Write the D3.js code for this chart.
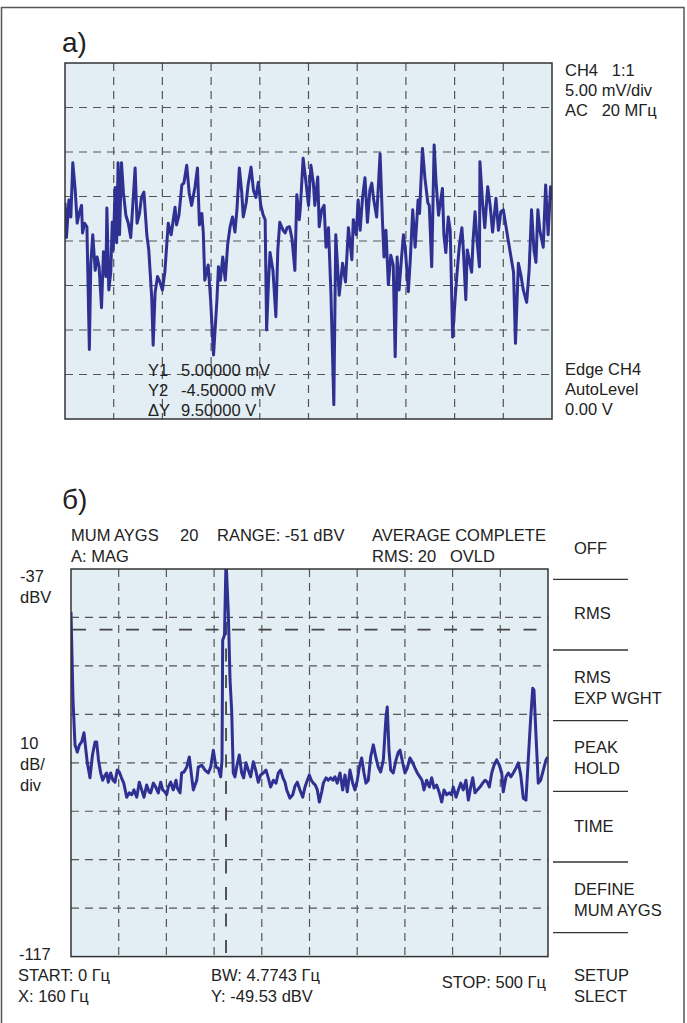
<!DOCTYPE html>
<html>
<head>
<meta charset="utf-8">
<script src="https://cdn.jsdelivr.net/npm/d3@7"></script>
<style>
  body { margin: 0; background: #fff; }
  svg text { font-family: "Liberation Sans", Arial, sans-serif; font-size: 16.5px; fill: #222; }
</style>
</head>
<body>
<div id="chart"></div>
<script>
// ---- panel a: oscilloscope trace (time in divisions, amplitude in mV) ----
const traceT = [
  0,0.03,0.08,0.12,0.16,0.21,0.25,0.29,0.34,0.36,
  0.40,0.45,0.50,0.53,0.57,0.62,0.66,0.70,0.75,0.79,
  0.84,0.86,0.90,0.94,0.97,0.99,1.03,1.06,1.09,1.12,
  1.16,1.20,1.25,1.30,1.35,1.44,1.48,1.53,1.57,1.62,
  1.68,1.72,1.78,1.81,1.85,1.90,1.95,2.00,2.05,2.12,
  2.18,2.26,2.29,2.34,2.40,2.44,2.50,2.55,2.60,2.67,
  2.72,2.76,2.81,2.84,2.87,2.94,2.99,3.05,3.12,3.15,
  3.19,3.24,3.29,3.34,3.39,3.44,3.49,3.53,3.58,3.63,
  3.66,3.72,3.76,3.82,3.87,3.92,3.97,4.02,4.07,4.11,
  4.14,4.18,4.21,4.27,4.33,4.37,4.41,4.48,4.52,4.56,
  4.61,4.66,4.72,4.76,4.81,4.83,4.89,4.95,5.00,5.05,
  5.10,5.13,5.19,5.22,5.27,5.32,5.36,5.41,5.46,5.52,
  5.56,5.63,5.70,5.76,5.82,5.89,5.92,5.98,6.02,6.06,
  6.11,6.16,6.21,6.26,6.30,6.34,6.40,6.47,6.52,6.55,
  6.59,6.64,6.69,6.74,6.78,6.82,6.86,6.91,6.95,6.99,
  7.05,7.09,7.14,7.19,7.25,7.28,7.34,7.39,7.45,7.48,
  7.53,7.58,7.62,7.67,7.70,7.75,7.78,7.82,7.87,7.91,
  7.96,8.01,8.05,8.10,8.15,8.18,8.23,8.26,8.31,8.35,
  8.38,8.42,8.46,8.51,8.52,8.57,8.62,8.68,8.73,8.78,
  8.85,8.90,8.95,9.00,9.10,9.21,9.25,9.31,9.36,9.41,
  9.48,9.53,9.58,9.63,9.67,9.71,9.75,9.82,9.87,9.92,9.97,10.00
];
const traceMv = [
  4.3,0.4,4.6,2.7,8.8,5.7,2.0,3.1,4.0,0.9,
  2.0,1.6,-12.2,-2.5,0.7,-3.3,-1.8,-2.9,-7.5,-1.2,
  -4.0,3.7,-5.5,-3.5,2.1,-1.0,6.0,-0.2,8.8,0.7,
  8.8,5.4,2.9,2.0,0.4,8.2,2.0,3.1,4.9,5.5,
  0.7,-1.0,-6.3,-11.7,-5.8,-4.0,-4.6,-5.5,-3.5,2.0,
  0.7,3.8,1.8,2.9,6.3,6.5,8.5,5.4,4.0,6.1,
  8.2,1.8,3.1,0.9,-4.4,-2.7,-6.6,-12.8,-6.6,-2.9,
  -4.4,-1.8,-4.4,-0.4,1.6,2.7,1.0,3.5,8.2,5.4,
  2.7,4.3,6.3,8.3,5.7,4.9,6.6,4.0,2.9,2.4,
  -10.0,-4.4,-1.3,-3.3,-8.5,-1.0,2.1,1.2,0.9,1.5,
  1.6,0.3,-3.3,5.2,2.4,3.5,9.3,6.5,4.0,8.5,
  6.5,4.0,7.2,1.6,3.5,4.0,-0.7,1.5,-5.8,-18.4,
  0.7,-6.1,-2.5,-4.6,1.5,-2.1,2.4,0.7,4.6,1.2,
  4.9,7.1,2.1,5.7,6.5,4.6,2.7,9.8,2.1,-1.8,
  1.2,-4.9,-1.6,-2.7,-13.0,-1.8,-5.5,-1.9,0.7,-1.0,
  -5.7,-2.1,3.5,-0.7,4.6,3.1,10.4,7.1,4.3,4.0,
  -2.9,10.8,6.6,2.9,4.0,5.9,0.7,-1.3,2.7,1.2,
  -10.8,-6.6,-3.6,-0.4,1.5,-1.0,-6.6,-1.0,-2.4,-3.5,
  0.1,3.3,0.1,-2.9,8.9,4.6,1.5,6.1,4.0,1.0,
  4.8,1.2,3.3,3.5,0.1,-3.5,-11.5,-2.5,-3.8,-5.5,
  -6.9,-3.3,3.5,-1.0,-2.4,3.5,1.2,-0.7,6.3,0.7,6.1,4.6
];

// ---- panel b: spectrum (Hz, dBV) ----
const specHz = [
  0,2.1,4.2,6.6,8.9,11.2,13.6,17.1,19.9,22.5,
  25.2,26.9,28.8,31.1,33.2,35.3,37.4,39.1,41.6,44.0,
  46.1,48.5,50.6,52.9,55.3,58.4,61.1,63.6,66.0,68.9,
  71.6,74.1,76.5,79.3,81.8,83.5,86.3,88.8,91.5,94.0,
  96.1,98.5,100.3,102.0,104.5,107.2,110.1,111.4,114.3,116.0,
  118.4,121.3,124.0,126.5,128.2,131.8,133.4,137.0,140.5,143.9,
  146.4,149.2,152.0,154.4,156.9,158.3,159.0,160.9,162.5,164.9,
  166.7,168.4,170.1,171.9,174.0,176.4,178.9,181.0,183.4,185.8,
  188.3,191.1,193.6,196.3,198.8,201.6,204.4,206.8,209.3,212.1,
  214.9,217.3,219.8,222.2,224.3,226.1,229.5,232.4,234.8,237.2,
  240.0,242.9,245.3,247.7,249.8,251.9,254.0,256.1,258.2,260.3,
  262.8,264.5,267.3,269.7,272.2,274.6,276.7,279.1,282.0,284.8,
  287.2,289.6,292.4,295.3,297.7,300.1,302.2,304.7,307.1,309.2,
  311.6,314.1,316.9,319.7,322.1,324.6,327.4,330.2,331.5,333.3,
  335.1,337.8,340.7,343.1,344.9,347.7,350.1,352.5,355.3,358.2,
  360.6,363.0,365.7,367.9,370.0,372.8,375.6,378.1,380.5,383.3,
  386.1,388.6,391.0,393.8,396.5,398.6,400.7,403.6,406.0,408.5,
  411.2,414.0,416.5,419.0,421.1,423.5,425.9,428.7,431.5,434.0,
  436.4,438.5,441.0,443.4,446.2,449.0,451.5,453.1,456.0,458.4,
  461.2,463.6,466.4,468.9,471.4,474.1,476.9,479.3,481.6,484.0,
  485.3,487.4,489.8,492.3,495.1,497.9,499.7
];
const specDbv = [
  -45.9,-64.0,-73.3,-74.8,-73.3,-72.7,-70.8,-77.0,-80.1,-75.4,
  -72.7,-72.7,-76.4,-79.1,-80.6,-79.7,-79.1,-81.0,-79.1,-80.6,
  -81.0,-78.5,-78.9,-80.1,-81.2,-84.1,-83.2,-83.6,-82.6,-84.1,
  -81.0,-82.6,-84.1,-81.6,-83.0,-83.2,-81.2,-82.0,-83.2,-81.0,
  -82.6,-83.0,-83.6,-82.0,-81.0,-82.6,-80.6,-82.2,-83.2,-79.1,
  -78.9,-77.9,-75.8,-79.9,-82.6,-80.6,-77.9,-77.5,-78.5,-79.1,
  -77.9,-74.4,-77.9,-78.1,-79.9,-76.4,-51.7,-50.6,-35.1,-46.1,
  -59.9,-66.1,-79.1,-79.9,-77.5,-75.4,-79.1,-80.1,-77.0,-78.5,
  -79.9,-76.8,-78.5,-81.0,-79.5,-79.1,-78.5,-80.1,-82.0,-80.6,
  -81.2,-79.1,-78.5,-80.1,-81.0,-82.6,-84.3,-83.6,-81.8,-81.0,
  -82.6,-84.1,-82.0,-80.6,-79.5,-80.6,-81.2,-81.6,-82.6,-85.1,
  -83.0,-81.2,-80.1,-80.6,-80.1,-80.6,-79.9,-81.2,-79.1,-82.6,
  -79.5,-83.0,-78.5,-81.2,-82.6,-80.6,-77.9,-76.0,-79.1,-81.2,
  -80.6,-75.8,-73.3,-76.0,-77.9,-78.9,-76.4,-67.5,-65.5,-74.4,
  -78.5,-79.1,-76.4,-74.8,-74.4,-77.0,-79.1,-78.1,-76.0,-77.0,
  -78.1,-79.1,-79.9,-80.6,-82.6,-80.6,-82.0,-80.1,-82.2,-81.6,
  -83.2,-85.1,-82.6,-83.6,-83.2,-83.6,-82.0,-84.1,-82.6,-81.2,
  -82.6,-80.6,-84.7,-82.0,-80.1,-83.2,-82.6,-82.0,-81.2,-80.6,
  -81.0,-82.0,-79.1,-77.5,-76.4,-77.5,-79.1,-83.0,-79.9,-79.1,
  -79.9,-79.1,-78.1,-77.0,-79.5,-84.3,-84.7,-76.4,-68.6,-61.6,
  -62.0,-71.3,-81.2,-80.6,-78.5,-76.4,-75.8
];
const cursorHz = 162.5;     // marker position as seen on screen
const cursorDbv = -49.53;

// ---- text ----
const scopeInfo = ["CH4   1:1", "5.00 mV/div", "AC   20 МГц"];
const trigInfo = ["Edge CH4", "AutoLevel", "0.00 V"];
const cursorNames = ["Y1", "Y2", "ΔY"];
const cursorVals = ["5.00000 mV", "-4.50000 mV", "9.50000 V"];
const menuItems = [["OFF"], ["RMS"], ["RMS", "EXP WGHT"], ["PEAK", "HOLD"], ["TIME"], ["DEFINE", "MUM AYGS"], ["SETUP", "SLECT"]];

const W = 687, H = 1023;
const svg = d3.select("#chart").append("svg")
    .attr("width", W)
    .attr("height", H);

// outer frame
svg.append("rect")
    .attr("x", 1.5).attr("y", 7.5)
    .attr("width", 682.5).attr("height", 1030)
    .attr("fill", "none")
    .attr("stroke", "#555")
    .attr("stroke-width", 1.5);

function txt(x, y, s, size, anchor) {
    const t = svg.append("text")
        .attr("x", x).attr("y", y)
        .attr("text-anchor", anchor || "start")
        .style("white-space", "pre")
        .text(s);
    if (size) t.style("font-size", size + "px");
    return t;
}

function drawPanel(x, y, xTicks, yTicks, clipId) {
    const g = svg.append("g");
    const [x0, x1] = x.range();
    const [y0, y1] = y.range(); // y0 bottom
    g.append("rect")
        .attr("x", x0).attr("y", y1)
        .attr("width", x1 - x0).attr("height", y0 - y1)
        .attr("fill", "#e2edf4");

    g.selectAll(".vgrid").data(xTicks).enter().append("line")
        .attr("x1", d => x(d)).attr("x2", d => x(d))
        .attr("y1", y1).attr("y2", y0)
        .attr("stroke", "#555").attr("stroke-width", 1.2)
        .attr("stroke-dasharray", "8,6");

    g.selectAll(".hgrid").data(yTicks).enter().append("line")
        .attr("x1", x0).attr("x2", x1)
        .attr("y1", d => y(d)).attr("y2", d => y(d))
        .attr("stroke", "#555").attr("stroke-width", 1.2)
        .attr("stroke-dasharray", "8,6");

    svg.append("clipPath").attr("id", clipId)
        .append("rect")
        .attr("x", x0).attr("y", y1)
        .attr("width", x1 - x0).attr("height", y0 - y1);
    return g;
}

function drawBorder(x, y) {
    const [x0, x1] = x.range();
    const [y0, y1] = y.range();
    svg.append("rect")
        .attr("x", x0).attr("y", y1)
        .attr("width", x1 - x0).attr("height", y0 - y1)
        .attr("fill", "none")
        .attr("stroke", "#333").attr("stroke-width", 1.5);
}

// ================= panel a =================
const xA = d3.scaleLinear().domain([0, 10]).range([65, 552]);
const yA = d3.scaleLinear().domain([-20, 20]).range([419, 63]);

drawPanel(xA, yA, d3.range(1, 10), d3.range(-15, 20, 5), "clipA");

const lineA = d3.line()
    .x(d => xA(d[0]))
    .y(d => yA(d[1]));

svg.append("path")
    .datum(d3.zip(traceT, traceMv))
    .attr("clip-path", "url(#clipA)")
    .attr("d", lineA)
    .attr("fill", "none")
    .attr("stroke", "#2e3192")
    .attr("stroke-width", 3)
    .attr("stroke-linejoin", "round");

drawBorder(xA, yA);

txt(62, 52, "а)", 28);
scopeInfo.forEach((s, i) => txt(565, 76 + i * 20, s));
trigInfo.forEach((s, i) => txt(565, 375 + i * 20, s));
cursorNames.forEach((s, i) => txt(148, 376 + i * 20, s));
cursorVals.forEach((s, i) => txt(181, 376 + i * 20, s));

// ================= panel b =================
const xB = d3.scaleLinear().domain([0, 500]).range([71, 548]);
const yB = d3.scaleLinear().domain([-117, -37]).range([956.6, 569]);

drawPanel(xB, yB, d3.range(50, 500, 50), d3.range(-107, -37, 10), "clipB");

// cursors
svg.append("line")
    .attr("x1", xB(0) + 2).attr("x2", xB(500))
    .attr("y1", yB(cursorDbv)).attr("y2", yB(cursorDbv))
    .attr("stroke", "#444").attr("stroke-width", 1.8)
    .attr("stroke-dasharray", "13,13.5");
svg.append("line")
    .attr("x1", xB(cursorHz)).attr("x2", xB(cursorHz))
    .attr("y1", yB(-37)).attr("y2", yB(-117))
    .attr("stroke", "#444").attr("stroke-width", 1.8)
    .attr("stroke-dasharray", "13,13.5");

const lineB = d3.line()
    .x(d => xB(d[0]))
    .y(d => yB(d[1]));

svg.append("path")
    .datum(d3.zip(specHz, specDbv))
    .attr("clip-path", "url(#clipB)")
    .attr("d", lineB)
    .attr("fill", "none")
    .attr("stroke", "#2e3192")
    .attr("stroke-width", 3)
    .attr("stroke-linejoin", "round");

drawBorder(xB, yB);

txt(62, 509, "б)", 28);
txt(71, 541, "MUM AYGS");
txt(180, 541, "20");
txt(217, 541, "RANGE: -51 dBV");
txt(372, 541, "AVERAGE COMPLETE");
txt(71, 562, "A: MAG");
txt(372, 562, "RMS: 20");
txt(450, 562, "OVLD");

txt(20, 582, "-37");
txt(20, 603, "dBV");
txt(20, 749, "10");
txt(20, 770, "dB/");
txt(20, 791, "div");
txt(19, 960, "-117");

txt(18, 981, "START: 0 Гц");
txt(18, 1002, "X: 160 Гц");
txt(211, 981, "BW: 4.7743 Гц");
txt(211, 1002, "Y: -49.53 dBV");
txt(546, 988, "STOP: 500 Гц", null, "end");

// right-side soft key menu
const menuSep = d3.scaleLinear().domain([0, 5]).range([579.3, 932.7]);
d3.range(0, 6).forEach(i => {
    svg.append("line")
        .attr("x1", 553).attr("x2", 628)
        .attr("y1", menuSep(i)).attr("y2", menuSep(i))
        .attr("stroke", "#333").attr("stroke-width", 1.3);
});
const menuCenters = [548, 613, 687, 757, 826, 899, 985];
menuItems.forEach((lines, i) => {
    const c = menuCenters[i];
    const top = c - (lines.length - 1) * 10.5 + 6;
    lines.forEach((s, j) => txt(574, top + j * 21, s));
});
</script>
</body>
</html>
